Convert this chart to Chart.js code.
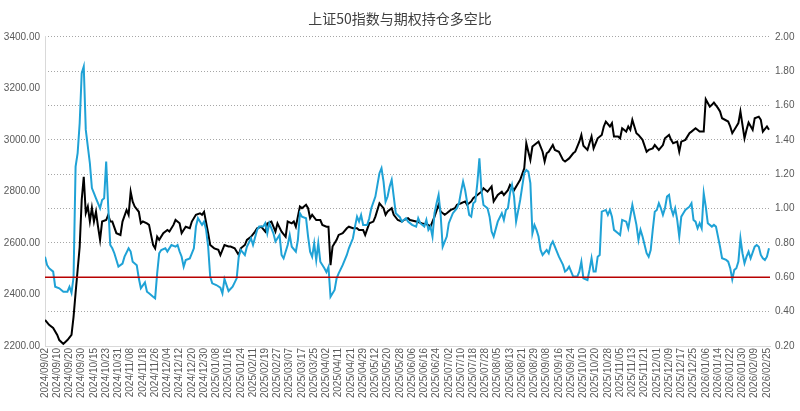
<!DOCTYPE html>
<html>
<head>
<meta charset="utf-8">
<script src="https://cdn.jsdelivr.net/npm/chart.js@4.4.1/dist/chart.umd.min.js"></script>
<style>
  html, body { margin: 0; padding: 0; background: #ffffff; }
  #wrap { width: 800px; height: 411px; }
</style>
</head>
<body>
<div id="wrap"><canvas id="c" width="800" height="411"></canvas></div>
<script>
// ---- Data ----
const titleText = "上证50指数与期权持仓多空比";

// x-axis tick labels, one every 6 trading days
const tickLabels = [
  "2024/09/02","2024/09/10","2024/09/20","2024/09/30","2024/10/15","2024/10/23","2024/10/31","2024/11/08",
  "2024/11/18","2024/11/26","2024/12/04","2024/12/12","2024/12/20","2024/12/30","2025/01/08","2025/01/16",
  "2025/01/24","2025/02/11","2025/02/19","2025/02/27","2025/03/07","2025/03/17","2025/03/25","2025/04/02",
  "2025/04/11","2025/04/21","2025/04/29","2025/05/12","2025/05/20","2025/05/28","2025/06/06","2025/06/16",
  "2025/06/24","2025/07/02","2025/07/10","2025/07/18","2025/07/28","2025/08/05","2025/08/13","2025/08/21",
  "2025/08/29","2025/09/08","2025/09/16","2025/09/24","2025/10/10","2025/10/20","2025/10/28","2025/11/05",
  "2025/11/13","2025/11/21","2025/12/01","2025/12/09","2025/12/17","2025/12/25","2026/01/06","2026/01/14",
  "2026/01/22","2026/01/30","2026/02/09","2026/02/25"
];
const TICK_STEP = 6;        // trading days between labels
const LAST_DAY = 355.5;     // x-range end (trading-day index)

// 上证50指数 (left axis): trading-day index and value
const indexDays = [0,2,4,6,7,9,11,13,14,15,16,17,18,19,20,21,22,23,24,25,26,27,28,30,31,32,33,35,37,38,40,41,42,43,44,46,47,48,50,51,53,54,55,56,58,60,61,63,64,66,67,69,71,72,74,76,77,78,80,81,83,85,86,88,90,91,93,95,96,98,99,101,103,104,106,108,109,111,113,114,116,118,119,121,122,123,125,126,128,129,130,131,133,135,136,138,139,140,141,143,144,146,148,149,151,153,154,156,157,159,161,162,164,166,167,168,170,171,173,175,176,178,179,182,185,188,189,191,193,194,196,197,199,201,202,204,206,207,209,210,212,214,215,217,219,220,222,224,225,227,228,230,232,233,235,236,237,238,239,241,242,244,245,246,247,249,250,252,254,255,257,259,260,262,263,264,266,268,269,271,273,274,275,277,278,279,281,282,283,285,286,287,288,290,291,293,295,296,298,299,301,303,304,306,307,308,310,311,312,314,316,317,319,321,323,324,326,327,328,330,331,332,335,336,337,339,340,341,342,343,344,345,347,348,350,351,352,354,355];
const indexValues = [2301,2282,2270,2243,2223,2208,2223,2243,2313,2406,2495,2584,2767,2857,2716,2741,2683,2736,2683,2721,2663,2612,2683,2689,2709,2683,2683,2638,2631,2683,2728,2709,2799,2760,2741,2721,2676,2683,2676,2670,2592,2579,2624,2612,2638,2650,2644,2670,2689,2676,2638,2663,2657,2683,2709,2715,2709,2721,2638,2592,2579,2573,2553,2592,2586,2586,2579,2553,2579,2592,2612,2624,2644,2657,2663,2644,2676,2683,2644,2676,2644,2624,2683,2676,2683,2663,2741,2735,2748,2735,2696,2709,2689,2689,2670,2663,2663,2514,2586,2612,2631,2638,2657,2663,2657,2657,2650,2650,2631,2676,2683,2702,2754,2735,2709,2722,2735,2709,2689,2683,2689,2696,2689,2683,2676,2670,2663,2702,2748,2722,2709,2715,2728,2735,2748,2754,2761,2748,2761,2774,2786,2799,2812,2799,2819,2761,2786,2799,2786,2805,2825,2805,2832,2845,2890,2987,2954,2922,2974,2987,2993,2954,2916,2948,2954,2980,2961,2954,2922,2916,2928,2948,2954,2993,3019,2977,2961,3013,2967,3006,3019,3052,3071,3052,3065,3013,3013,3006,3045,3032,3052,3039,3078,3026,3019,3000,2954,2961,2967,2980,2961,2980,3006,3019,3000,2987,2993,2954,2993,3000,3026,3032,3045,3032,3032,3158,3129,3136,3145,3123,3110,3084,3071,3052,3026,3052,3065,3110,3058,3006,3039,3067,3039,3084,3090,3078,3032,3052,3039];

// 期权持仓多空比 (right axis): trading-day index and value
const ratioDays = [0,1,2,4,5,7,9,11,12,13,14,15,16,17,18,19,20,22,23,24,25,27,28,29,30,31,32,33,34,36,38,39,41,42,43,45,46,47,49,50,51,53,54,55,56,57,59,60,62,64,65,66,67,68,69,71,73,74,75,77,78,79,80,81,82,84,86,87,88,90,92,94,95,96,98,99,101,102,104,105,107,108,109,110,112,113,115,116,117,119,120,121,123,124,125,126,128,129,130,131,132,133,134,135,137,138,139,140,142,143,144,146,148,149,151,152,153,154,155,156,158,159,160,162,163,164,165,166,167,168,169,170,171,172,174,175,177,178,180,182,183,184,186,187,188,189,190,191,192,193,194,195,197,198,200,202,203,204,205,206,208,209,210,211,212,213,214,215,217,218,219,220,222,224,225,226,227,228,229,230,231,233,234,235,236,237,238,239,240,241,242,243,244,246,247,248,249,251,252,254,255,256,257,258,259,261,262,263,264,266,267,268,269,270,271,272,273,275,276,277,278,279,281,282,283,285,286,287,288,290,291,292,293,295,296,297,298,299,300,301,302,303,304,305,306,307,308,309,310,311,312,313,314,316,317,318,319,320,321,322,323,324,325,327,328,329,330,331,332,334,335,336,337,338,339,340,341,342,343,344,345,346,348,349,350,351,352,353,354,355];
const ratioValues = [0.72,0.672,0.653,0.633,0.545,0.536,0.516,0.516,0.545,0.51,0.60,1.244,1.322,1.497,1.788,1.827,1.458,1.264,1.119,1.09,1.06,1.002,1.05,1.06,1.274,1.011,0.788,0.769,0.74,0.662,0.68,0.72,0.769,0.75,0.69,0.67,0.594,0.536,0.57,0.516,0.507,0.487,0.478,0.623,0.74,0.759,0.769,0.75,0.788,0.778,0.788,0.75,0.72,0.662,0.70,0.71,0.769,0.895,0.944,0.905,0.924,0.876,0.778,0.604,0.565,0.555,0.54,0.507,0.59,0.52,0.545,0.594,0.72,0.759,0.73,0.778,0.827,0.788,0.876,0.895,0.895,0.915,0.856,0.915,0.856,0.808,0.846,0.73,0.71,0.788,0.846,0.778,0.749,0.817,0.973,0.953,0.944,0.837,0.749,0.72,0.798,0.70,0.798,0.691,0.653,0.63,0.66,0.487,0.526,0.594,0.623,0.672,0.73,0.769,0.827,0.895,0.953,0.924,0.963,0.905,0.905,0.944,1.002,1.07,1.138,1.206,1.235,1.157,1.04,1.07,1.128,1.167,1.07,0.973,0.95,0.924,0.944,0.924,0.905,0.895,0.944,0.915,0.895,0.934,0.876,0.895,0.837,0.973,1.031,1.08,0.963,0.778,0.837,0.915,0.973,1.002,1.031,1.099,1.157,1.108,0.963,0.953,1.031,1.041,1.148,1.293,1.108,1.021,1.002,0.953,0.866,0.837,0.924,0.973,0.934,0.992,1.002,1.089,1.138,1.07,0.924,1.05,1.128,1.206,1.225,1.215,1.148,0.856,0.905,0.876,0.837,0.759,0.73,0.759,0.74,0.788,0.808,0.749,0.72,0.672,0.633,0.643,0.662,0.633,0.604,0.604,0.633,0.691,0.594,0.584,0.643,0.711,0.633,0.633,0.72,0.73,0.982,0.992,0.963,0.992,0.953,0.876,0.856,0.846,0.934,0.924,0.885,0.953,1.021,0.905,0.817,0.876,0.837,0.74,0.72,0.759,0.876,0.982,0.992,1.031,1.002,0.963,1.002,1.07,1.08,1.002,0.963,1.002,0.934,0.837,0.953,0.973,0.992,1.011,1.031,0.934,0.924,0.885,0.915,0.885,1.089,1.011,0.915,0.895,0.905,0.895,0.837,0.778,0.711,0.701,0.691,0.653,0.588,0.643,0.653,0.691,0.827,0.74,0.682,0.72,0.749,0.711,0.778,0.788,0.778,0.73,0.711,0.701,0.72,0.769];

const THRESHOLD = 0.60;   // red reference line on the right axis

// left / right axis ranges
const leftMin = 2200, leftMax = 3400, leftStep = 200;
const rightMin = 0.2, rightMax = 2.0, rightStep = 0.2;

// ---- Chart ----
const toPoints = (xs, ys) => xs.map((x, i) => ({ x: x, y: ys[i] }));

const tickFont = { family: "'Liberation Sans', Arial, sans-serif", size: 10 };
const tickColor = '#595959';

new Chart(document.getElementById('c'), {
  type: 'line',
  data: {
    datasets: [
      {
        label: '多空比警戒线',
        data: [{ x: 0, y: THRESHOLD }, { x: LAST_DAY, y: THRESHOLD }],
        yAxisID: 'yR',
        borderColor: '#b80000',
        borderWidth: 1.5,
        pointRadius: 0
      },
      {
        label: '期权持仓多空比',
        data: toPoints(ratioDays, ratioValues),
        yAxisID: 'yR',
        borderColor: '#1fa2d6',
        borderWidth: 2,
        pointRadius: 0,
        tension: 0
      },
      {
        label: '上证50指数',
        data: toPoints(indexDays, indexValues),
        yAxisID: 'yL',
        borderColor: '#000000',
        borderWidth: 2,
        pointRadius: 0,
        tension: 0
      }
    ]
  },
  options: {
    responsive: false,
    animation: false,
    layout: { padding: { left: 0, right: 0, top: 0, bottom: 0 } },
    plugins: {
      legend: { display: false },
      tooltip: { enabled: false },
      title: {
        display: true,
        text: titleText,
        color: '#404040',
        font: { family: "'Noto Sans CJK SC', sans-serif", size: 14, weight: 'normal' },
        padding: { top: 10, bottom: 10 }
      }
    },
    scales: {
      x: {
        type: 'linear',
        min: 0,
        max: LAST_DAY,
        afterBuildTicks: (scale) => {
          scale.ticks = tickLabels.map((_, i) => ({ value: i * TICK_STEP }));
        },
        afterFit: (scale) => { scale.height = 65; },
        ticks: {
          autoSkip: false,
          maxRotation: 90,
          minRotation: 90,
          padding: 2,
          color: tickColor,
          font: tickFont,
          callback: (v) => tickLabels[Math.round(v / TICK_STEP)]
        },
        grid: { display: false, drawTicks: false },
        border: { display: true, color: '#d9d9d9' }
      },
      yL: {
        position: 'left',
        min: leftMin,
        max: leftMax,
        afterFit: (scale) => { scale.width = 45; },
        ticks: {
          stepSize: leftStep,
          padding: 5,
          color: tickColor,
          font: tickFont,
          callback: (v) => Number(v).toFixed(2)
        },
        grid: { display: false, drawTicks: false },
        border: { display: true, color: '#d9d9d9' }
      },
      yR: {
        position: 'right',
        min: rightMin,
        max: rightMax,
        afterFit: (scale) => { scale.width = 30; },
        ticks: {
          stepSize: rightStep,
          padding: 5,
          color: tickColor,
          font: tickFont,
          callback: (v) => Number(v).toFixed(2)
        },
        grid: {
          display: true,
          drawTicks: false,
          color: '#a6a6a6',
          lineWidth: 1
        },
        border: { display: true, color: 'rgba(0,0,0,0)', dash: [1, 2] }
      }
    }
  }
});
</script>
</body>
</html>
